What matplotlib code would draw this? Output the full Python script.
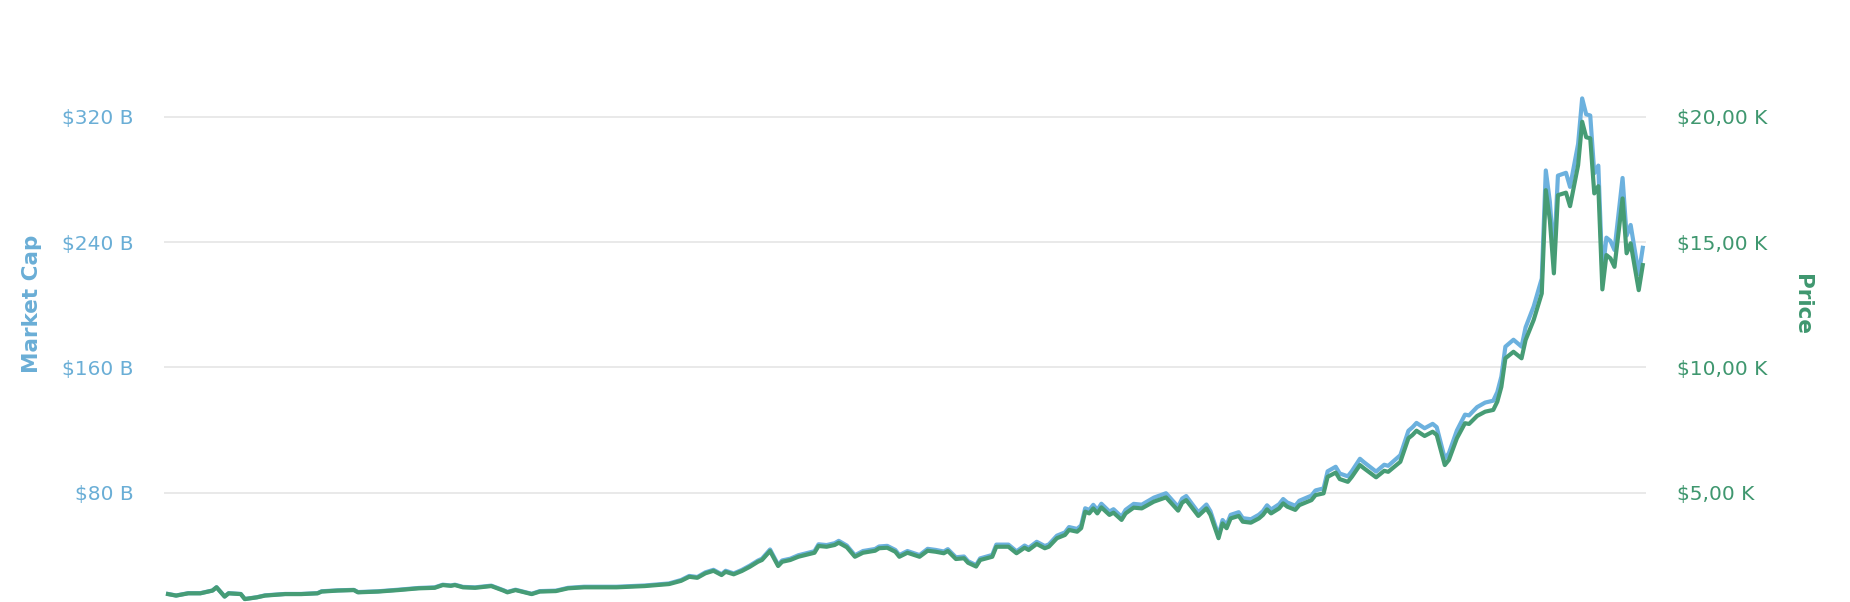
import matplotlib
matplotlib.use("Agg")
import matplotlib.pyplot as plt
from matplotlib.ticker import FixedLocator, FuncFormatter

# Day offsets from 2017-01-01
days = [0, 2, 5, 8, 11, 12, 14, 15, 18, 19, 22, 24, 29, 33, 37, 38, 42, 46, 47, 52,
        57, 62, 66, 68, 70, 71, 73, 76, 80, 83, 84, 86, 90, 92, 96, 99, 103, 111, 118, 124,
        127, 129, 131, 133, 135, 137, 138, 140, 142, 144, 146, 147, 149, 151, 152, 154, 156, 160, 161, 163,
        165, 166, 168, 170, 172, 175, 176, 178, 180, 181, 183, 186, 188, 190, 192, 193, 195, 197, 198, 200,
        201, 204, 205, 208, 210, 212, 213, 215, 217, 218, 220, 222, 223, 225, 226, 227, 228, 229, 230, 231,
        233, 234, 236, 237, 239, 241, 244, 247, 250, 251, 252, 255, 257, 258, 260, 261, 262, 263, 265, 266,
        268, 270, 271, 272, 273, 275, 276, 277, 279, 280, 283, 284, 286, 287, 289, 290, 292, 293, 295, 296,
        299, 301, 302, 304, 305, 307, 308, 309, 311, 313, 314, 315, 316, 317, 319, 321, 322, 324, 326, 328,
        329, 330, 331, 333, 335, 336, 338, 340, 341, 342, 343, 344, 346, 347, 349, 350, 351, 352, 353, 354,
        355, 356, 357, 358, 360, 361, 362, 364, 365]

# Price in thousands of USD
price_k = [0.95, 0.89, 0.98, 0.98, 1.09, 1.22, 0.85, 0.98, 0.95, 0.75, 0.82, 0.89, 0.95, 0.95, 0.98, 1.05, 1.09, 1.11, 1.02, 1.05,
           1.11, 1.18, 1.20, 1.31, 1.28, 1.31, 1.22, 1.20, 1.27, 1.09, 1.02, 1.11, 0.95, 1.05, 1.07, 1.18, 1.22, 1.22, 1.27, 1.35,
           1.48, 1.64, 1.60, 1.78, 1.88, 1.71, 1.84, 1.74, 1.87, 2.04, 2.24, 2.31, 2.67, 2.07, 2.24, 2.31, 2.44, 2.60, 2.87, 2.84,
           2.91, 3.00, 2.82, 2.44, 2.60, 2.68, 2.78, 2.80, 2.64, 2.44, 2.60, 2.44, 2.68, 2.64, 2.58, 2.67, 2.35, 2.38, 2.20, 2.05,
           2.31, 2.44, 2.84, 2.84, 2.58, 2.80, 2.71, 2.95, 2.78, 2.84, 3.18, 3.31, 3.51, 3.44, 3.58, 4.24, 4.17, 4.37, 4.17, 4.41,
           4.11, 4.20, 3.91, 4.17, 4.40, 4.37, 4.64, 4.81, 4.28, 4.60, 4.70, 4.07, 4.37, 4.11, 3.18, 3.77, 3.58, 3.97, 4.07, 3.84,
           3.80, 3.97, 4.11, 4.33, 4.17, 4.37, 4.57, 4.44, 4.31, 4.50, 4.70, 4.90, 4.97, 5.63, 5.80, 5.54, 5.43, 5.63, 6.10, 5.97,
           5.61, 5.87, 5.83, 6.10, 6.23, 7.17, 7.30, 7.47, 7.26, 7.43, 7.30, 6.70, 6.10, 6.30, 7.17, 7.77, 7.74, 8.06, 8.23, 8.30,
           8.63, 9.22, 10.36, 10.62, 10.36, 11.09, 11.89, 12.95, 17.07, 15.88, 13.75, 16.87, 16.97, 16.43, 18.07, 19.80, 19.18, 19.14, 16.94, 17.23,
           13.11, 14.48, 14.35, 14.01, 16.74, 14.55, 14.95, 13.08, 14.08]

# Market cap in billions of USD
mcap_b = [15.3, 14.3, 15.8, 15.8, 17.5, 19.6, 13.7, 15.8, 15.3, 12.1, 13.2, 14.4, 15.3, 15.3, 15.8, 17.0, 17.6, 17.9, 16.5, 17.0,
          18.0, 19.1, 19.5, 21.2, 20.7, 21.2, 19.8, 19.5, 20.6, 17.7, 16.6, 18.0, 15.4, 17.1, 17.4, 19.2, 19.9, 19.9, 20.7, 22.0,
          24.2, 26.8, 26.1, 29.1, 30.7, 27.9, 30.1, 28.4, 30.6, 33.4, 36.6, 37.8, 43.7, 33.9, 36.7, 37.8, 40.0, 42.6, 47.0, 46.5,
          47.7, 49.2, 46.2, 40.0, 42.7, 44.0, 45.6, 46.0, 43.4, 40.1, 42.7, 40.1, 44.1, 43.4, 42.4, 43.9, 38.7, 39.2, 36.2, 33.7,
          38.0, 40.2, 46.8, 46.8, 42.5, 46.2, 44.7, 48.6, 45.9, 46.9, 52.5, 54.6, 58.0, 56.8, 59.1, 70.0, 68.9, 72.2, 68.9, 72.9,
          67.9, 69.4, 64.6, 69.0, 72.8, 72.3, 76.8, 79.6, 70.9, 76.2, 77.8, 67.4, 72.4, 68.1, 52.7, 62.5, 59.4, 65.8, 67.5, 63.7,
          63.0, 65.9, 68.2, 71.9, 69.2, 72.6, 75.9, 73.7, 71.6, 74.8, 78.1, 81.4, 82.7, 93.6, 96.5, 92.2, 90.4, 93.7, 101.6, 99.4,
          93.4, 97.8, 97.1, 101.6, 103.9, 119.5, 121.7, 124.5, 121.1, 123.9, 121.8, 111.8, 101.8, 105.1, 119.7, 129.8, 129.3, 134.6, 137.5, 138.7,
          144.2, 154.1, 173.2, 177.6, 173.2, 185.5, 198.9, 216.7, 285.7, 265.8, 230.2, 282.4, 284.2, 275.2, 302.7, 331.7, 321.5, 320.8, 283.9, 288.8,
          219.8, 242.8, 240.7, 234.9, 280.9, 244.1, 250.9, 219.5, 236.3]

mcap_ticks = [80, 160, 240, 320]
price_ticks = [5, 10, 15, 20]

BLUE_LINE = "#6cb1de"
BLUE_TEXT = "#6aaed6"
GREEN_LINE = "#469c75"
GREEN_TEXT = "#3f976f"
GRID = "#e3e3e3"

W, H = 1850, 602
fig = plt.figure(figsize=(W / 100, H / 100), dpi=100)
fig.patch.set_facecolor("white")

ax_left_px, ax_right_px = 164, 1646
ax_top_px, ax_bot_px = 40, 602
ax = fig.add_axes([ax_left_px / W, 1 - ax_bot_px / H,
                   (ax_right_px - ax_left_px) / W, (ax_bot_px - ax_top_px) / H])
ax2 = ax.twinx()

ax.plot(days, mcap_b, color=BLUE_LINE, lw=3.0, solid_joinstyle="round", zorder=3)
ax2.plot(days, price_k, color=GREEN_LINE, lw=3.0, solid_joinstyle="round", zorder=3)

ymin_b, ymax_b = 10.15, 369.0
ax.set_ylim(ymin_b, ymax_b)
ax2.set_ylim(ymin_b / 16.0, ymax_b / 16.0)
ax.set_xlim(-1, 365.8)

ax.yaxis.set_major_locator(FixedLocator(mcap_ticks))
ax2.yaxis.set_major_locator(FixedLocator(price_ticks))
ax.yaxis.set_major_formatter(FuncFormatter(lambda v, p: f"${int(v)} B"))
ax2.yaxis.set_major_formatter(FuncFormatter(lambda v, p: f"${int(v)},00 K"))

ax.grid(axis="y", color=GRID, lw=1.1, zorder=0)
ax.set_axisbelow(True)
ax.set_xticks([])
for a in (ax, ax2):
    for s in a.spines.values():
        s.set_visible(False)
    a.set_facecolor("none")

ax.tick_params(axis="y", length=0, pad=22, labelsize=14.5, labelcolor=BLUE_TEXT)
ax2.tick_params(axis="y", length=0, pad=22.5, labelsize=14.5, labelcolor=GREEN_TEXT)

fig.text(31.7 / W, 1 - 304 / H, "Market Cap", rotation=90, ha="center", va="center",
         fontsize=15.5, fontweight="bold", color=BLUE_TEXT)
fig.text(1802 / W, 1 - 304 / H, "Price", rotation=270, ha="center", va="center",
         fontsize=15.5, fontweight="bold", color=GREEN_TEXT)

fig.savefig("out.png", dpi=100, facecolor="white")
